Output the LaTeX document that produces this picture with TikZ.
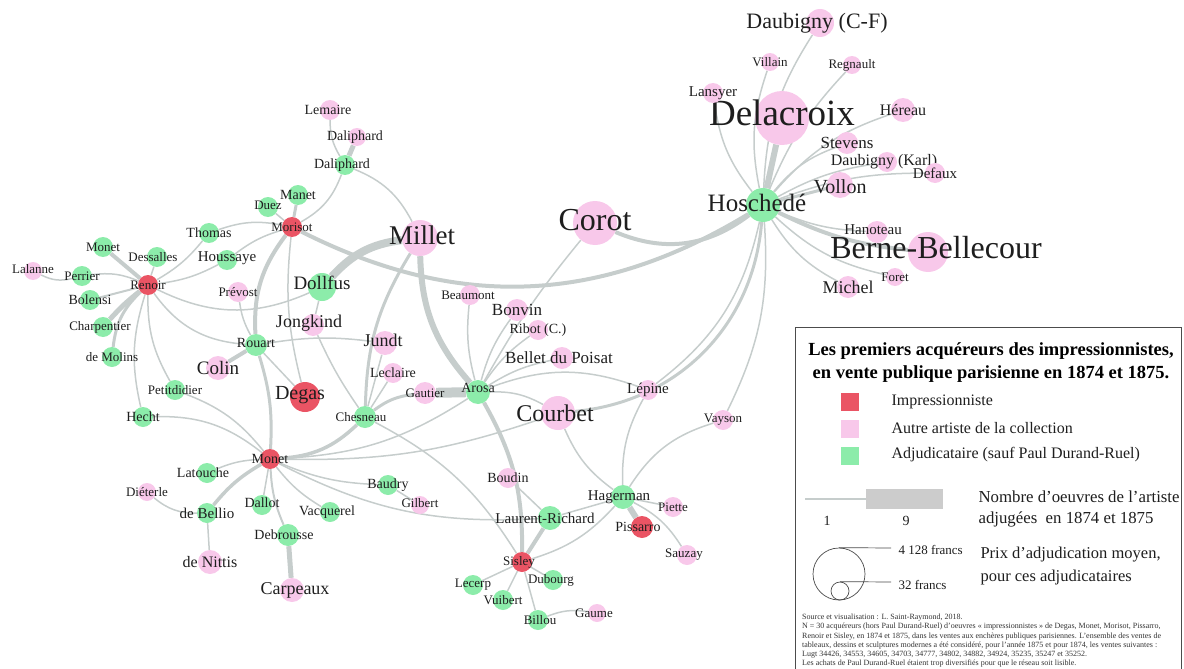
\documentclass[tikz,border=0pt]{standalone}
\usepackage{fontspec}
\setmainfont{Liberation Serif}
\usetikzlibrary{backgrounds}

\definecolor{impred}{RGB}{234,84,100}
\definecolor{othpink}{RGB}{248,200,234}
\definecolor{adjgreen}{RGB}{140,236,170}
\definecolor{liengris}{RGB}{198,205,204}
\definecolor{texte}{RGB}{30,30,30}

\tikzset{
  imp/.style={circle, fill=impred, inner sep=0pt},
  oth/.style={circle, fill=othpink, inner sep=0pt},
  adj/.style={circle, fill=adjgreen, inner sep=0pt},
  lien/.style={draw=liengris, line width=1.5pt},
  t13/.style={font=\fontsize{13}{13}\selectfont, text=texte},
  t14/.style={font=\fontsize{14}{14}\selectfont, text=texte},
  t15/.style={font=\fontsize{15}{15}\selectfont, text=texte},
  t16/.style={font=\fontsize{16}{16}\selectfont, text=texte},
  t17/.style={font=\fontsize{17}{17}\selectfont, text=texte},
  t18/.style={font=\fontsize{18}{18}\selectfont, text=texte},
  t19/.style={font=\fontsize{19}{19}\selectfont, text=texte},
  t20/.style={font=\fontsize{20}{20}\selectfont, text=texte},
  t22/.style={font=\fontsize{22}{22}\selectfont, text=texte},
  t24/.style={font=\fontsize{24}{24}\selectfont, text=texte},
  t25/.style={font=\fontsize{25}{25}\selectfont, text=texte},
  t27/.style={font=\fontsize{27}{27}\selectfont, text=texte},
  t32/.style={font=\fontsize{32}{32}\selectfont, text=texte},
  t37/.style={font=\fontsize{37}{37}\selectfont, text=texte},
}

\begin{document}
\begin{tikzpicture}[x=1pt, y=1pt]
\useasboundingbox (0,0) rectangle (1184,-669);

% Renoir et ses acheteurs
\node[imp, minimum size=20pt, label={[t13]center:Renoir}] (renoir) at (148,-285) {};
\node[adj, minimum size=20pt, label={[t13]center:Monet}] (monetg) at (103,-247) {};
\node[adj, minimum size=20pt, label={[t13,xshift=-4pt]center:Dessalles}] (dessalles) at (157,-257) {};
\node[oth, minimum size=18pt, label={[t13,yshift=2pt]center:Lalanne}] (lalanne) at (33,-271) {};
\node[adj, minimum size=20pt, label={[t13]center:Perrier}] (perrier) at (82,-276) {};
\node[adj, minimum size=20pt, label={[t14]center:Bolensi}] (bolensi) at (90,-300) {};
\node[adj, minimum size=20pt, label={[t13,xshift=-3pt]center:Charpentier}] (charpentier) at (103,-327) {};
\node[adj, minimum size=20pt, label={[t13]center:de Molins}] (demolins) at (112,-357) {};
\node[adj, minimum size=20pt, label={[t13]center:Petitdidier}] (petitdidier) at (175,-390) {};
\node[adj, minimum size=20pt, label={[t14]center:Hecht}] (hecht) at (143,-417) {};
\node[adj, minimum size=20pt, label={[t14]center:Thomas}] (thomas) at (209,-233) {};
\node[adj, minimum size=20pt, label={[t15,yshift=2pt]center:Houssaye}] (houssaye) at (227,-260) {};
\node[oth, minimum size=20pt, label={[t13]center:Prévost}] (prevost) at (238,-292) {};

% Morisot
\node[imp, minimum size=20pt, label={[t13]center:Morisot}] (morisot) at (292,-227) {};
\node[adj, minimum size=20pt, label={[t13,yshift=2pt]center:Duez}] (duez) at (268,-207) {};
\node[adj, minimum size=20pt, label={[t14]center:Manet}] (manet) at (298,-195) {};
\node[adj, minimum size=20pt, label={[t14,xshift=-3pt]center:Daliphard}] (daliphardg) at (345,-165) {};
\node[oth, minimum size=18pt, label={[t14,xshift=-2pt]center:Daliphard}] (daliphardp) at (357,-137) {};
\node[oth, minimum size=20pt, label={[t14,xshift=-2pt]center:Lemaire}] (lemaire) at (330,-110) {};

% centre gauche
\node[oth, minimum size=36pt, label={[t27,xshift=2pt,yshift=3pt]center:Millet}] (millet) at (420,-238) {};
\node[adj, minimum size=28pt, label={[t19,yshift=4pt]center:Dollfus}] (dollfus) at (322,-287) {};
\node[oth, minimum size=22pt, label={[t18,xshift=-4pt,yshift=2pt]center:Jongkind}] (jongkind) at (313,-325) {};
\node[adj, minimum size=22pt, label={[t14,yshift=2pt]center:Rouart}] (rouart) at (256,-345) {};
\node[oth, minimum size=24pt, label={[t19]center:Colin}] (colin) at (218,-368) {};
\node[imp, minimum size=30pt, label={[t20,xshift=-5pt,yshift=2pt]center:Degas}] (degas) at (305,-397) {};
\node[oth, minimum size=24pt, label={[t18,xshift=-2pt,yshift=3pt]center:Jundt}] (jundt) at (385,-343) {};
\node[oth, minimum size=20pt, label={[t14]center:Leclaire}] (leclaire) at (393,-373) {};
\node[oth, minimum size=22pt, label={[t13]center:Gautier}] (gautier) at (425,-393) {};
\node[adj, minimum size=22pt, label={[t13,xshift=-4pt]center:Chesneau}] (chesneau) at (365,-417) {};
\node[adj, minimum size=24pt, label={[t14,yshift=4pt]center:Arosa}] (arosa) at (478,-392) {};

% Monet et ses acheteurs
\node[imp, minimum size=20pt, label={[t14]center:Monet}] (monetr) at (270,-459) {};
\node[adj, minimum size=20pt, label={[t14,xshift=-4pt]center:Latouche}] (latouche) at (207,-473) {};
\node[oth, minimum size=18pt, label={[t13]center:Diéterle}] (dieterle) at (147,-492) {};
\node[adj, minimum size=20pt, label={[t15]center:de Bellio}] (debellio) at (207,-513) {};
\node[oth, minimum size=24pt, label={[t16]center:de Nittis}] (denittis) at (210,-562) {};
\node[adj, minimum size=20pt, label={[t14,yshift=2pt]center:Dallot}] (dallot) at (262,-505) {};
\node[adj, minimum size=22pt, label={[t14,xshift=-4pt]center:Debrousse}] (debrousse) at (288,-535) {};
\node[oth, minimum size=24pt, label={[t18,xshift=3pt]center:Carpeaux}] (carpeaux) at (292,-590) {};
\node[adj, minimum size=20pt, label={[t14,xshift=-3pt]center:Vacquerel}] (vacquerel) at (330,-512) {};
\node[adj, minimum size=20pt, label={[t14]center:Baudry}] (baudry) at (388,-485) {};
\node[oth, minimum size=18pt, label={[t13,yshift=2pt]center:Gilbert}] (gilbert) at (420,-505) {};

% autour d'Arosa
\node[oth, minimum size=20pt, label={[t13,xshift=-2pt]center:Beaumont}] (beaumont) at (470,-295) {};
\node[oth, minimum size=22pt, label={[t17]center:Bonvin}] (bonvin) at (517,-310) {};
\node[oth, minimum size=20pt, label={[t14]center:Ribot (C.)}] (ribot) at (538,-330) {};
\node[oth, minimum size=22pt, label={[t17,xshift=-3pt]center:Bellet du Poisat}] (bellet) at (562,-358) {};
\node[oth, minimum size=20pt, label={[t15]center:Lépine}] (lepine) at (648,-390) {};
\node[oth, minimum size=34pt, label={[t24,xshift=-3pt]center:Courbet}] (courbet) at (558,-413) {};
\node[oth, minimum size=20pt, label={[t13]center:Vayson}] (vayson) at (723,-420) {};
\node[oth, minimum size=20pt, label={[t14]center:Boudin}] (boudin) at (508,-478) {};

% Sisley, Pissarro
\node[adj, minimum size=24pt, label={[t15,xshift=-4pt]center:Hagerman}] (hagerman) at (623,-497) {};
\node[oth, minimum size=20pt, label={[t13]center:Piette}] (piette) at (673,-507) {};
\node[imp, minimum size=22pt, label={[t14,xshift=-4pt]center:Pissarro}] (pissarro) at (642,-527) {};
\node[oth, minimum size=20pt, label={[t13,xshift=-3pt]center:Sauzay}] (sauzay) at (687,-555) {};
\node[adj, minimum size=24pt, label={[t15,xshift=-5pt]center:Laurent-Richard}] (laurentr) at (550,-518) {};
\node[imp, minimum size=20pt, label={[t13,xshift=-3pt]center:Sisley}] (sisley) at (522,-562) {};
\node[adj, minimum size=20pt, label={[t13]center:Lecerp}] (lecerp) at (473,-585) {};
\node[adj, minimum size=20pt, label={[t13]center:Vuibert}] (vuibert) at (503,-600) {};
\node[adj, minimum size=20pt, label={[t13,xshift=-2pt]center:Dubourg}] (dubourg) at (553,-580) {};
\node[adj, minimum size=20pt, label={[t13,xshift=2pt]center:Billou}] (billou) at (538,-620) {};
\node[oth, minimum size=18pt, label={[t13,xshift=-3pt]center:Gaume}] (gaume) at (597,-613) {};

% Hoschede
\node[oth, minimum size=44pt, label={[t32,yshift=3pt]center:Corot}] (corot) at (595,-223) {};
\node[adj, minimum size=34pt, label={[t25,xshift=-6pt,yshift=2pt]center:Hoschedé}] (hoschede) at (763,-205) {};
\node[oth, minimum size=54pt, label={[t37,yshift=5pt]center:Delacroix}] (delacroix) at (782,-118) {};
\node[oth, minimum size=28pt, label={[t22,xshift=-3pt]center:Daubigny (C-F)}] (dcf) at (820,-23) {};
\node[oth, minimum size=18pt, label={[t13]center:Villain}] (villain) at (770,-62) {};
\node[oth, minimum size=18pt, label={[t13]center:Regnault}] (regnault) at (852,-65) {};
\node[oth, minimum size=20pt, label={[t15]center:Lansyer}] (lansyer) at (713,-93) {};
\node[oth, minimum size=24pt, label={[t16]center:Héreau}] (hereau) at (903,-110) {};
\node[oth, minimum size=22pt, label={[t17]center:Stevens}] (stevens) at (847,-143) {};
\node[oth, minimum size=20pt, label={[t16,xshift=-3pt]center:Daubigny (Karl)}] (dkarl) at (887,-162) {};
\node[oth, minimum size=20pt, label={[t15]center:Defaux}] (defaux) at (935,-173) {};
\node[oth, minimum size=26pt, label={[t20,yshift=-2pt]center:Vollon}] (vollon) at (840,-185) {};
\node[oth, minimum size=22pt, label={[t15,xshift=-4pt,yshift=2pt]center:Hanoteau}] (hanoteau) at (877,-232) {};
\node[oth, minimum size=40pt, label={[t32,xshift=8pt,yshift=4pt]center:Berne-Bellecour}] (berne) at (928,-252) {};
\node[oth, minimum size=18pt, label={[t13]center:Foret}] (foret) at (895,-277) {};
\node[oth, minimum size=22pt, label={[t18]center:Michel}] (michel) at (848,-287) {};

\begin{pgfonlayer}{background}
  \draw[lien, line width=4pt] (renoir) to (monetg);
  \draw[lien] (renoir) to (dessalles);
  \draw[lien] (lalanne) to[bend right=20] (perrier);
  \draw[lien] (perrier) to[bend left=15] (renoir);
  \draw[lien, line width=2pt] (renoir) to (bolensi);
  \draw[lien, line width=5pt] (renoir) to[bend right=5] (charpentier);
  \draw[lien, line width=3pt] (renoir) to[bend right=20] (demolins);
  \draw[lien] (renoir) to[bend right=15] (hecht);
  \draw[lien] (renoir) to[bend right=15] (petitdidier);
  \draw[lien] (renoir) to[bend right=10] (thomas);
  \draw[lien] (renoir) to[bend right=10] (houssaye);
  \draw[lien] (renoir) to[bend right=25] (rouart);
  \draw[lien] (renoir) to[bend right=25] (dollfus);
  \draw[lien] (thomas) to[bend left=15] (morisot);
  \draw[lien] (houssaye) to[bend left=10] (morisot);
  \draw[lien] (morisot) to (duez);
  \draw[lien, line width=3pt] (morisot) to (manet);
  \draw[lien] (morisot) to[bend right=20] (daliphardg);
  \draw[lien, line width=5pt] (daliphardg) to (daliphardp);
  \draw[lien] (daliphardg) to[bend left=15] (lemaire);
  \draw[lien] (daliphardg) to[bend left=20] (millet);
  \draw[lien, line width=4pt] (morisot) to[bend right=20] (rouart);
  \draw[lien] (morisot) to[bend right=10] (degas);
  \draw[lien, line width=4pt] (morisot) to[bend right=29] (hoschede);
  \draw[lien, line width=4pt] (corot) to[bend right=30] (hoschede);
  \draw[lien, line width=8pt] (millet) to[bend right=20] (dollfus);
  \draw[lien, line width=6pt] (millet) to[bend right=20] (arosa);
  \draw[lien, line width=3pt] (millet) to[bend right=15] (chesneau);
  \draw[lien] (dollfus) to (jongkind);
  \draw[lien, line width=4pt] (rouart) to (colin);
  \draw[lien, line width=3pt] (rouart) to[bend left=10] (monetr);
  \draw[lien] (rouart) to[bend left=8] (jundt);
  \draw[lien] (prevost) to[bend right=10] (rouart);
  \draw[lien] (rouart) to (degas);
  \draw[lien] (jongkind) to[bend right=5] (chesneau);
  \draw[lien] (chesneau) to (jundt);
  \draw[lien] (chesneau) to (leclaire);
  \draw[lien, line width=3pt] (chesneau) to[bend left=15] (gautier);
  \draw[lien, line width=10pt] (gautier) to (arosa);
  \draw[lien, line width=3.5pt] (chesneau) to[bend left=20] (monetr);
  \draw[lien] (chesneau) to[bend left=15] (sisley);
  \draw[lien] (monetr) to[bend right=15] (arosa);
  \draw[lien] (monetr) to[bend right=10] (courbet);
  \draw[lien] (hecht) to[bend left=20] (monetr);
  \draw[lien] (petitdidier) to[bend left=15] (monetr);
  \draw[lien] (latouche) to[bend left=10] (monetr);
  \draw[lien, line width=3.5pt] (debellio) to[bend left=10] (monetr);
  \draw[lien] (monetr) to (dallot);
  \draw[lien, line width=2pt] (monetr) to[bend right=10] (debrousse);
  \draw[lien] (monetr) to[bend right=10] (vacquerel);
  \draw[lien] (monetr) to[bend right=10] (baudry);
  \draw[lien] (monetr) to[bend right=15] (laurentr);
  \draw[lien] (baudry) to (gilbert);
  \draw[lien] (dieterle) to[bend right=20] (debellio);
  \draw[lien] (debellio) to (denittis);
  \draw[lien, line width=5pt] (debrousse) to (carpeaux);
  \draw[lien] (beaumont) to[bend right=10] (arosa);
  \draw[lien] (arosa) to[bend left=10] (bonvin);
  \draw[lien] (arosa) to[bend left=10] (ribot);
  \draw[lien] (arosa) to[bend left=10] (bellet);
  \draw[lien] (arosa) to[bend left=20] (lepine);
  \draw[lien] (arosa) to[bend left=15] (courbet);
  \draw[lien] (arosa) to[bend left=5] (corot);
  \draw[lien, line width=4pt] (arosa) to[bend left=15] (sisley);
  \draw[lien] (boudin) to (laurentr);
  \draw[lien, line width=4pt] (laurentr) to (sisley);
  \draw[lien] (laurentr) to (hagerman);
  \draw[lien, line width=6pt] (hagerman) to (pissarro);
  \draw[lien] (hagerman) to (piette);
  \draw[lien] (hagerman) to[bend left=15] (sauzay);
  \draw[lien] (sisley) to[bend right=15] (hagerman);
  \draw[lien] (courbet) to[bend right=15] (hagerman);
  \draw[lien] (lepine) to[bend right=15] (hagerman);
  \draw[lien] (hagerman) to[bend left=20] (vayson);
  \draw[lien] (sisley) to (lecerp);
  \draw[lien] (sisley) to (vuibert);
  \draw[lien] (sisley) to (dubourg);
  \draw[lien] (sisley) to (billou);
  \draw[lien] (billou) to[bend left=15] (gaume);
  \draw[lien, line width=3pt] (courbet) to[bend right=40] (hoschede);
  \draw[lien] (lepine) to[bend right=20] (hoschede);
  \draw[lien] (vayson) to[bend right=15] (hoschede);
  \draw[lien, line width=6pt] (hoschede) to (delacroix);
  \draw[lien] (hoschede) to[bend left=15] (dcf);
  \draw[lien] (hoschede) to[bend left=15] (villain);
  \draw[lien] (hoschede) to[bend left=15] (lansyer);
  \draw[lien] (hoschede) to[bend left=10] (regnault);
  \draw[lien] (hoschede) to[bend left=15] (hereau);
  \draw[lien] (hoschede) to[bend left=15] (stevens);
  \draw[lien] (hoschede) to[bend left=10] (dkarl);
  \draw[lien] (hoschede) to[bend left=10] (defaux);
  \draw[lien, line width=3pt] (hoschede) to (vollon);
  \draw[lien] (hoschede) to[bend right=10] (hanoteau);
  \draw[lien, line width=4pt] (hoschede) to[bend right=10] (berne);
  \draw[lien] (hoschede) to[bend right=15] (foret);
  \draw[lien] (hoschede) to[bend right=15] (michel);
\end{pgfonlayer}

% legende
\draw[draw=black!70, fill=white, line width=0.8pt] (795,-327) rectangle (1181,-680);
\node[font=\bfseries\fontsize{18.5}{23}\selectfont, align=center, text=black] (titre) at (991,-363)
  {Les premiers acquéreurs des impressionnistes,\\en vente publique parisienne en 1874 et 1875.};
\node[fill=impred, minimum size=18pt, inner sep=0pt] (legimp) at (850,-402) {};
\node[fill=othpink, minimum size=18pt, inner sep=0pt] (legoth) at (850,-429) {};
\node[fill=adjgreen, minimum size=18pt, inner sep=0pt] (legadj) at (850,-456) {};
\node[t16, anchor=west] at (888,-402) {Impressionniste};
\node[t16, anchor=west] at (888,-428) {Autre artiste de la collection};
\node[t16, anchor=west] at (888,-455) {Adjudicataire (sauf Paul Durand-Ruel)};
\coordinate (lgA) at (805,-499);
\coordinate (lgB) at (866,-499);
\draw[lien] (lgA) -- (lgB);
\fill[black!20] (866,-489) rectangle (943,-509);
\node[t14] at (827,-521) {1};
\node[t14] at (906,-521) {9};
\node[anchor=west, align=left, font=\fontsize{16.8}{21}\selectfont, text=texte] at (975,-509)
  {Nombre d’oeuvres de l’artiste\\adjugées \ en 1874 et 1875};
\node[circle, draw=black!70, line width=0.7pt, minimum size=52pt, inner sep=0pt] (grand) at (839,-574) {};
\node[circle, draw=black!70, line width=0.7pt, minimum size=18pt, inner sep=0pt] (petit) at (840,-591) {};
\coordinate (gfin) at (891,-548);
\coordinate (pfin) at (891,-582);
\draw[black!70, line width=0.7pt] (grand.north) -- (gfin);
\draw[black!70, line width=0.7pt] (petit.north) -- (pfin);
\node[t13, anchor=west] at (895,-550) {4 128 francs};
\node[t13, anchor=west] at (895,-585) {32 francs};
\node[anchor=west, align=left, font=\fontsize{16.5}{23}\selectfont, text=texte] at (977,-566)
  {Prix d’adjudication moyen,\\pour ces adjudicataires};
\node[anchor=north west, align=left, inner sep=0pt, text=black!80,
      font=\fontsize{8}{9.2}\selectfont] (source) at (802,-614)
  {Source et visualisation : L. Saint-Raymond, 2018.\\
   N = 30 acquéreurs (hors Paul Durand-Ruel) d’oeuvres «~impressionnistes~» de Degas, Monet, Morisot, Pissarro,\\
   Renoir et Sisley, en 1874 et 1875, dans les ventes aux enchères publiques parisiennes. L’ensemble des ventes de\\
   tableaux, dessins et sculptures modernes a été considéré, pour l’année 1875 et pour 1874, les ventes suivantes :\\
   Lugt 34426, 34553, 34605, 34703, 34777, 34802, 34882, 34924, 35235, 35247 et 35252.\\
   Les achats de Paul Durand-Ruel étaient trop diversifiés pour que le réseau soit lisible.};
\end{tikzpicture}
\end{document}
